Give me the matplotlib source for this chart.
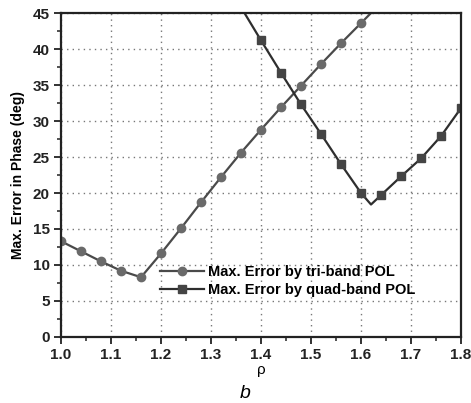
import matplotlib
matplotlib.use("Agg")
import matplotlib.pyplot as plt
from matplotlib.ticker import MultipleLocator

# Maximum phase error versus rho for the two POL designs
rho_tri = [1.00, 1.04, 1.08, 1.12, 1.16, 1.20, 1.24, 1.28, 1.32, 1.36,
           1.40, 1.44, 1.48, 1.52, 1.56, 1.60, 1.64]
err_tri = [13.3, 11.9, 10.5, 9.2, 8.3, 11.6, 15.1, 18.7, 22.2, 25.6,
           28.8, 31.9, 34.9, 37.9, 40.8, 43.6, 46.4]

rho_quad = [1.36, 1.40, 1.44, 1.48, 1.52, 1.56, 1.60, 1.62, 1.64,
            1.68, 1.72, 1.76, 1.80]
err_quad = [45.8, 41.2, 36.7, 32.3, 28.2, 24.0, 20.0, 18.4, 19.7,
            22.3, 24.8, 27.9, 31.8]
quad_marked = [0, 1, 2, 3, 4, 5, 6, 8, 9, 10, 11, 12]

x_ticks = [1.0, 1.1, 1.2, 1.3, 1.4, 1.5, 1.6, 1.7, 1.8]
y_ticks = [0, 5, 10, 15, 20, 25, 30, 35, 40, 45]

plt.rcParams['font.family'] = ['Liberation Sans', 'DejaVu Sans']

fig = plt.figure(figsize=(4.71, 4.03), dpi=100)
ax = fig.add_axes([0.1295, 0.1638, 0.8493, 0.8039])

ax.plot(rho_tri, err_tri, '-o', color='#4a4a4a', lw=1.6, ms=6,
        mfc='#6a6a6a', mec='#6a6a6a', label='Max. Error by tri-band POL')
ax.plot(rho_quad, err_quad, '-s', color='#2e2e2e', lw=1.6, ms=5.5,
        mfc='#444444', mec='#444444', markevery=quad_marked,
        label='Max. Error by quad-band POL')

ax.set_xlim(1.0, 1.8)
ax.set_ylim(0, 45)
ax.set_xticks(x_ticks)
ax.set_yticks(y_ticks)
ax.set_xticklabels([f"{v:.1f}" for v in x_ticks], fontweight='bold')
ax.set_yticklabels([str(v) for v in y_ticks], fontweight='bold')
ax.xaxis.set_minor_locator(MultipleLocator(0.05))
ax.yaxis.set_minor_locator(MultipleLocator(2.5))
ax.tick_params(which='major', direction='out', length=5, width=1.3,
               labelsize=11, colors='#222222', pad=3)
ax.tick_params(which='minor', direction='out', length=3, width=1.1,
               colors='#222222')
ax.tick_params(top=False, right=False, which='both')

for s in ax.spines.values():
    s.set_linewidth(1.6)
    s.set_color('#222222')

ax.grid(True, which='major', linestyle=(0, (1, 3)), color='#777777', lw=1.0)

ax.set_ylabel('Max. Error in Phase (deg)', fontsize=10, fontweight='bold',
              labelpad=6)
ax.set_xlabel('\u03c1', fontsize=11, labelpad=1)

ax.legend(loc='upper left', bbox_to_anchor=(0.2475, 0.222), frameon=False,
          handlelength=3.0, handletextpad=0.3, labelspacing=0.3,
          borderaxespad=0, borderpad=0,
          prop={'weight': 'bold', 'size': 10.5})

fig.text(0.52, 0.012, 'b', fontsize=14, style='italic', ha='center')

fig.savefig('out.png', dpi=100)
